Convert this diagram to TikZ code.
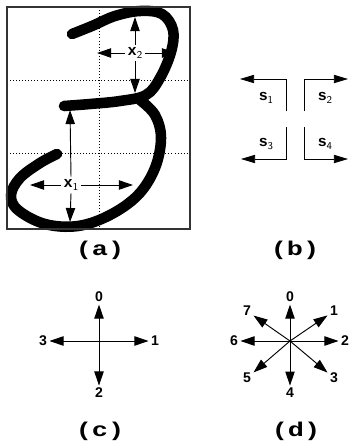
\documentclass[tikz,border=0pt]{standalone}
\usepackage{fontspec}
\setmainfont{Liberation Sans}
\newfontfamily\courfont{Liberation Mono}
\usetikzlibrary{positioning, arrows.meta}

\newcommand{\lowidx}[1]{\raisebox{-0.45ex}{\fontsize{9}{9}\selectfont\mdseries\sffamily #1}}
\newcommand{\wide}[1]{\scalebox{1.35}[1]{#1}}

\begin{document}
\begin{tikzpicture}[x=0.03cm, y=-0.03cm,
    dir/.style={-{Triangle[length=12pt, width=8pt]}, line width=0.8pt},
    corner/.style={-{Triangle[length=12pt, width=7pt]}, line width=0.6pt},
    caption/.style={font=\courfont\bfseries\fontsize{17}{17}\selectfont},
    xlab/.style={font=\courfont\bfseries\fontsize{13}{13}\selectfont, inner sep=2pt},
    slab/.style={font=\bfseries\fontsize{13}{13}\selectfont, inner sep=0pt},
    num/.style={font=\bfseries\fontsize{12}{12}\selectfont, inner sep=2pt},
    grid/.style={dotted, line width=0.6pt},
    stroke/.style={line width=9pt, line cap=round, line join=round}
]
\useasboundingbox (0,0) rectangle (350,442);

% (a) the digit with its two widths
\draw[grid] (99,7) -- (99,229);
\draw[grid] (7,80) -- (190,80);
\draw[grid] (7,153) -- (190,153);
\draw[stroke] plot[smooth, tension=0.6] coordinates {(72,34) (92,26) (115,16) (140,11) (162,14) (173,30) (171,52) (160,78) (146,95) (120,101) (90,104) (64,106)};
\draw[stroke] plot[smooth, tension=0.6] coordinates {(140,100) (155,115) (161,138) (155,168) (138,195) (110,215) (78,226) (45,224) (18,210) (11,195) (20,178) (40,163) (57,154)};
\draw[line width=1.2pt, black!80] (7,7) rectangle (190,229);

\node[xlab] (x2) at (135,53) {x\lowidx{2}};
\coordinate (x2up) at (135,17);
\coordinate (x2down) at (135,93);
\coordinate (x2left) at (97,53);
\coordinate (x2right) at (176,53);
\draw[dir] (x2) -- (x2up);
\draw[dir] (x2) -- (x2down);
\draw[dir] (x2) -- (x2left);
\draw[dir] (x2) -- (x2right);

\node[xlab] (x1) at (71,185) {x\lowidx{1}};
\coordinate (x1up) at (70,110);
\coordinate (x1down) at (70,222);
\coordinate (x1left) at (30,185);
\coordinate (x1right) at (133,185);
\draw[dir] (x1.north) -- (x1up);
\draw[dir] (x1.south) -- (x1down);
\draw[dir] (x1) -- (x1left);
\draw[dir] (x1) -- (x1right);

\node[caption] (capa) at (100,250) {\wide{(a)}};

% (b) corner features
\coordinate (s1foot) at (286,111);
\coordinate (s1tip) at (240,79);
\coordinate (s2foot) at (304,111);
\coordinate (s2tip) at (348,79);
\coordinate (s3foot) at (286,127);
\coordinate (s3tip) at (241,159);
\coordinate (s4foot) at (304,127);
\coordinate (s4tip) at (348,159);
\draw[corner] (s1foot) |- (s1tip);
\draw[corner] (s2foot) |- (s2tip);
\draw[corner] (s3foot) |- (s3tip);
\draw[corner] (s4foot) |- (s4tip);
\node[slab] (s1) at (266,98) {s\lowidx{1}};
\node[slab] (s2) at (325,98) {s\lowidx{2}};
\node[slab] (s3) at (266,144) {s\lowidx{3}};
\node[slab] (s4) at (325,144) {s\lowidx{4}};

\node[caption] (capb) at (295,250) {\wide{(b)}};

% (c) four directions
\coordinate (cc) at (99,341);
\node[num] (c0) at (99,297) {0};
\node[num] (c1) at (155,341) {1};
\node[num] (c2) at (99,393) {2};
\node[num] (c3) at (43,341) {3};
\foreach \k in {0,...,3}
    \draw[dir] (cc) -- (c\k);

\node[caption] (capc) at (100,431) {\wide{(c)}};

% (d) eight directions
\coordinate (dc) at (290,341);
\node[num] (d0) at (290,297) {0};
\node[num] (d1) at (334,311) {1};
\node[num] (d2) at (345,341) {2};
\node[num] (d3) at (334,378) {3};
\node[num] (d4) at (290,393) {4};
\node[num] (d5) at (247,378) {5};
\node[num] (d6) at (234,341) {6};
\node[num] (d7) at (247,311) {7};
\foreach \k in {0,...,7}
    \draw[dir] (dc) -- (d\k);

\node[caption] (capd) at (296,431) {\wide{(d)}};
\end{tikzpicture}
\end{document}
